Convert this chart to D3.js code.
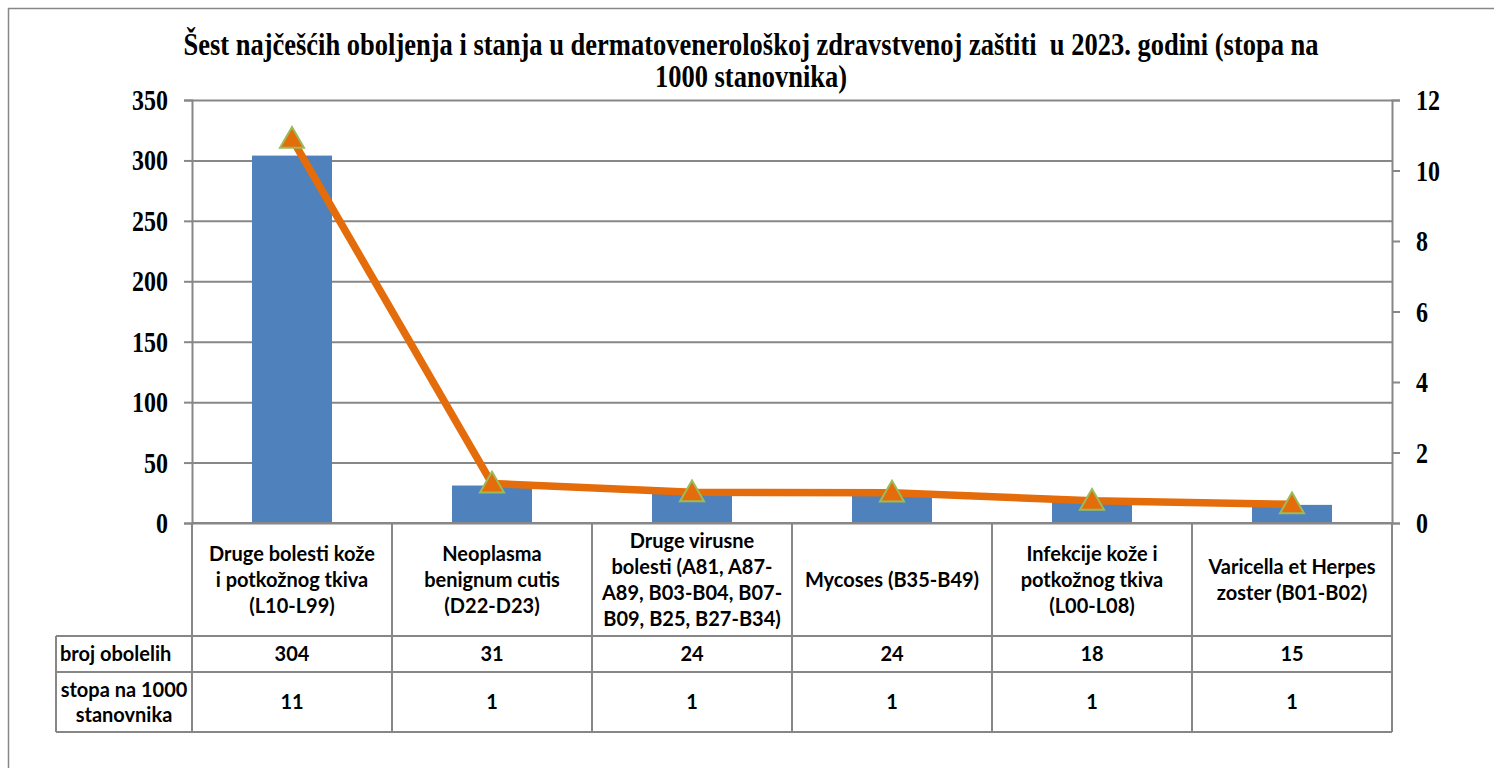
<!DOCTYPE html>
<html>
<head>
<meta charset="utf-8">
<script src="https://cdn.jsdelivr.net/npm/d3@7"></script>
<style>
  html, body { margin: 0; padding: 0; background: #fff; }
  svg { display: block; }
</style>
</head>
<body>
<svg id="chart" width="1494" height="768"></svg>
<script>
// ---------- data ----------
const categories = [
  "Druge bolesti kože i potkožnog tkiva (L10-L99)",
  "Neoplasma benignum cutis (D22-D23)",
  "Druge virusne bolesti (A81, A87-A89, B03-B04, B07-B09, B25, B27-B34)",
  "Mycoses (B35-B49)",
  "Infekcije kože i potkožnog tkiva (L00-L08)",
  "Varicella et Herpes zoster (B01-B02)"
];
const categoryLines = [
  ["Druge bolesti kože", "i potkožnog tkiva", "(L10-L99)"],
  ["Neoplasma", "benignum cutis", "(D22-D23)"],
  ["Druge virusne", "bolesti (A81, A87-", "A89, B03-B04, B07-", "B09, B25, B27-B34)"],
  ["Mycoses (B35-B49)"],
  ["Infekcije kože i", "potkožnog tkiva", "(L00-L08)"],
  ["Varicella et Herpes", "zoster (B01-B02)"]
];
const brojObolelih = [304, 31, 24, 24, 18, 15];
const stopaLine = [10.9, 1.12, 0.87, 0.86, 0.63, 0.53];
const stopaTable = [11, 1, 1, 1, 1, 1];
const leftTicks = [0, 50, 100, 150, 200, 250, 300, 350];
const rightTicks = [0, 2, 4, 6, 8, 10, 12];
const rowLabels = [["broj obolelih"], ["stopa na 1000", "stanovnika"]];
const titleLines = [
  "Šest najčešćih oboljenja i stanja u dermatovenerološkoj zdravstvenoj zaštiti\u00a0 u 2023. godini (stopa na",
  "1000 stanovnika)"
];

// ---------- layout ----------
const svg = d3.select("#chart");
const plot = { left: 192, right: 1392, top: 100, bottom: 523 };
const table = { labelLeft: 56, row1: 636, row2: 672, bottom: 732 };
const gridColor = "#878787";
const serif = "'Liberation Serif', 'Times New Roman', serif";
const sans = "Lato, 'Open Sans', sans-serif";
const stretch = 1.2;
const sansSize = 20;

// outer border
svg.append("rect")
  .attr("x", 8.5).attr("y", 8.5)
  .attr("width", 1600).attr("height", 900)
  .attr("fill", "none").attr("stroke", gridColor).attr("stroke-width", 1.5);

// title
svg.append("g").selectAll("text").data(titleLines).join("text")
  .attr("transform", (d, i) => `translate(751,${55 + i * 32}) scale(1,${stretch})`)
  .attr("text-anchor", "middle")
  .attr("font-family", serif).attr("font-weight", "bold").attr("font-size", 26.5)
  .attr("fill", "#000")
  .text(d => d);

// scales
const x = d3.scaleBand().domain(categories).range([plot.left, plot.right]).padding(0);
const yL = d3.scaleLinear().domain([0, 350]).range([plot.bottom, plot.top]);
const yR = d3.scaleLinear().domain([0, 12]).range([plot.bottom, plot.top]);
const barW = x.bandwidth() * 0.4;

// gridlines
svg.append("g")
  .attr("transform", `translate(${plot.left},0)`)
  .call(d3.axisLeft(yL).tickValues(leftTicks).tickSize(-(plot.right - plot.left)).tickFormat(""))
  .call(g => g.select(".domain").remove())
  .call(g => g.selectAll("line").attr("stroke", gridColor).attr("stroke-width", 2));

const styleTicks = g => g.selectAll("text")
  .attr("font-family", serif).attr("font-weight", "bold")
  .attr("font-size", 24).attr("fill", "#000")
  .attr("dy", "0.33em")
  .attr("transform", `scale(1,${stretch})`);

// left axis
svg.append("g")
  .attr("transform", `translate(${plot.left},0)`)
  .call(d3.axisLeft(yL).tickValues(leftTicks).tickSize(8).tickPadding(16))
  .call(g => g.select(".domain").attr("stroke", gridColor).attr("stroke-width", 2))
  .call(g => g.selectAll("line").attr("stroke", gridColor).attr("stroke-width", 2))
  .call(styleTicks);

// right axis
svg.append("g")
  .attr("transform", `translate(${plot.right},0)`)
  .call(d3.axisRight(yR).tickValues(rightTicks).tickSize(8).tickPadding(16))
  .call(g => g.select(".domain").attr("stroke", gridColor).attr("stroke-width", 2))
  .call(g => g.selectAll("line").attr("stroke", gridColor).attr("stroke-width", 2))
  .call(styleTicks);

// bars
svg.append("g").selectAll("rect").data(brojObolelih).join("rect")
  .attr("x", (d, i) => x(categories[i]) + (x.bandwidth() - barW) / 2)
  .attr("y", d => yL(d))
  .attr("width", barW)
  .attr("height", d => yL(0) - yL(d))
  .attr("fill", "#4F81BD");

// redraw zero line over bars
svg.append("line")
  .attr("x1", plot.left).attr("x2", plot.right)
  .attr("y1", yL(0)).attr("y2", yL(0))
  .attr("stroke", gridColor).attr("stroke-width", 2);

// line
const cx = (i) => x(categories[i]) + x.bandwidth() / 2;
const line = d3.line().x((d, i) => cx(i)).y(d => yR(d));
svg.append("path").datum(stopaLine)
  .attr("d", line)
  .attr("fill", "none").attr("stroke", "#E46C0A").attr("stroke-width", 7.5)
  .attr("stroke-linejoin", "round");

// markers
const tri = d3.symbol().type(d3.symbolTriangle).size(250);
svg.append("g").selectAll("path").data(stopaLine).join("path")
  .attr("d", tri)
  .attr("transform", (d, i) => `translate(${cx(i)},${yR(d) + 2})`)
  .attr("fill", "#E46C0A").attr("stroke", "#9BBB59").attr("stroke-width", 2);

// data table
const tg = svg.append("g");
const tLine = (x1, y1, x2, y2) => tg.append("line")
  .attr("x1", x1).attr("y1", y1).attr("x2", x2).attr("y2", y2)
  .attr("stroke", gridColor).attr("stroke-width", 2);
categories.forEach((c, i) => { if (i > 0) tLine(x(c), plot.bottom, x(c), table.bottom); });
tLine(plot.left, plot.bottom, plot.left, table.bottom);
tLine(plot.right, plot.bottom, plot.right, table.bottom);
tLine(table.labelLeft, table.row1, table.labelLeft, table.bottom);
[table.row1, table.row2, table.bottom].forEach(y => tLine(table.labelLeft, y, plot.right, y));

const lh = 26;
categoryLines.forEach((lines, i) => {
  const midY = (plot.bottom + table.row1) / 2;
  tg.append("g").selectAll("text").data(lines).join("text")
    .attr("x", cx(i))
    .attr("y", (d, j) => midY + (j - (lines.length - 1) / 2) * lh)
    .attr("dy", "0.35em")
    .attr("text-anchor", "middle")
    .attr("font-family", sans).attr("font-weight", "bold").attr("font-size", sansSize)
    .attr("fill", "#000")
    .text(d => d);
});

const rowY1 = (table.row1 + table.row2) / 2;
const rowY2 = (table.row2 + table.bottom) / 2;
tg.append("g").selectAll("text").data(brojObolelih).join("text")
  .attr("x", (d, i) => cx(i)).attr("y", rowY1).attr("dy", "0.35em")
  .attr("text-anchor", "middle")
  .attr("font-family", sans).attr("font-weight", "bold").attr("font-size", sansSize)
  .text(d => d);
tg.append("g").selectAll("text").data(stopaTable).join("text")
  .attr("x", (d, i) => cx(i)).attr("y", rowY2).attr("dy", "0.35em")
  .attr("text-anchor", "middle")
  .attr("font-family", sans).attr("font-weight", "bold").attr("font-size", sansSize)
  .text(d => d);

tg.append("text").attr("x", table.labelLeft + 4).attr("y", rowY1).attr("dy", "0.35em")
  .attr("font-family", sans).attr("font-weight", "bold").attr("font-size", sansSize)
  .text(rowLabels[0][0]);
tg.append("g").selectAll("text").data(rowLabels[1]).join("text")
  .attr("x", (table.labelLeft + plot.left) / 2)
  .attr("y", (d, j) => rowY2 + (j - 0.5) * 25).attr("dy", "0.35em")
  .attr("text-anchor", "middle")
  .attr("font-family", sans).attr("font-weight", "bold").attr("font-size", sansSize)
  .text(d => d);
</script>
</body>
</html>
